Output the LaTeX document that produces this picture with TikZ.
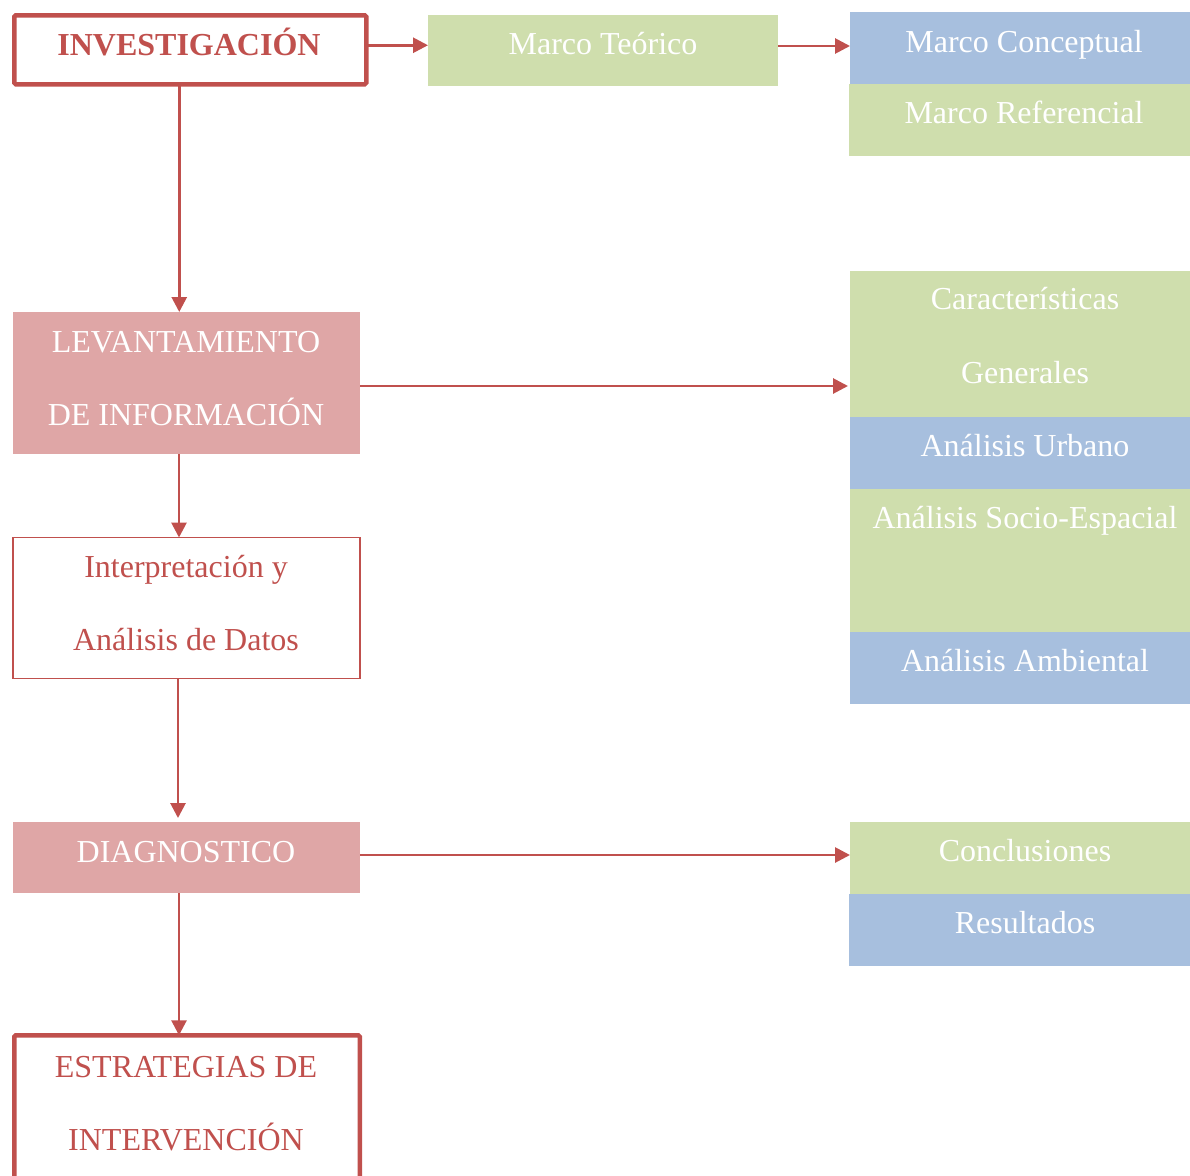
\documentclass[tikz,border=0pt]{standalone}
\usepackage{fontspec}
\setmainfont{Liberation Serif}
\usetikzlibrary{arrows.meta}
\definecolor{dred}{HTML}{C0504D}
\definecolor{pinkf}{HTML}{DFA6A6}
\definecolor{greenf}{HTML}{CFDEAD}
\definecolor{bluef}{HTML}{A7BFDE}
\begin{document}
\begin{tikzpicture}[x=1pt,y=-1pt,
  base/.style={inner sep=0pt, outer sep=0pt, anchor=north west},
  greenbox/.style={base, fill=greenf},
  bluebox/.style={base, fill=bluef},
  pinkbox/.style={base, fill=pinkf},
  thickbox/.style={base, draw=dred, line width=4.5pt, rounded corners=1.5pt, fill=white},
  thinbox/.style={base, draw=dred, line width=1.3pt, fill=white},
  wtxt/.style={anchor=base, inner sep=0pt, text=white, font=\fontsize{32}{32}\selectfont},
  rtxt/.style={anchor=base, inner sep=0pt, text=dred, font=\fontsize{32}{32}\selectfont},
  arr/.style={draw=dred, line width=2.8pt, -{Triangle[length=15pt,width=15pt]}}
]
\useasboundingbox (0,0) rectangle (1190,1175);
\clip (0,0) rectangle (1190,1175);

% boxes
\node[thickbox, minimum width=352pt, minimum height=69pt] (inv) at (14.25,15.25) {};
\node[greenbox, minimum width=350pt, minimum height=71pt] (mt) at (428,15) {};
\node[bluebox, minimum width=340pt, minimum height=72pt] (mc) at (850,12) {};
\node[greenbox, minimum width=341pt, minimum height=72pt] (mr) at (849,84) {};

\node[pinkbox, minimum width=347pt, minimum height=142pt] (lev) at (13,312) {};
\node[greenbox, minimum width=340pt, minimum height=146pt] (cg) at (850,271) {};
\node[bluebox, minimum width=340pt, minimum height=72pt] (au) at (850,417) {};
\node[greenbox, minimum width=340pt, minimum height=143pt] (ase) at (850,489) {};
\node[bluebox, minimum width=340pt, minimum height=72pt] (aa) at (850,632) {};

\node[thinbox, minimum width=347pt, minimum height=141pt] (interp) at (13,537.5) {};

\node[pinkbox, minimum width=347pt, minimum height=71pt] (diag) at (13,822) {};
\node[greenbox, minimum width=340pt, minimum height=72pt] (concl) at (850,822) {};
\node[bluebox, minimum width=341pt, minimum height=72pt] (res) at (849,894) {};

\node[thickbox, minimum width=345.5pt, minimum height=160pt] (estr) at (14.25,1035.25) {};

% texts
\node[rtxt, font=\bfseries\fontsize{32}{32}\selectfont] (tinv) at (189,55) {INVESTIGACIÓN};
\node[wtxt] (tmt) at (603,54) {Marco Teórico};
\node[wtxt] (tmc) at (1024,52) {Marco Conceptual};
\node[wtxt] (tmr) at (1024,123) {Marco Referencial};

\node[wtxt] (tlev1) at (186,352) {LEVANTAMIENTO};
\node[wtxt] (tlev2) at (186,425) {DE INFORMACIÓN};

\node[wtxt] (tcg1) at (1025,309) {Características};
\node[wtxt] (tcg2) at (1025,383) {Generales};
\node[wtxt] (tau) at (1025,456) {Análisis Urbano};
\node[wtxt] (tase) at (1025,528) {Análisis Socio-Espacial};
\node[wtxt] (taa) at (1025,671) {Análisis Ambiental};

\node[rtxt] (tint1) at (186,577) {Interpretación y};
\node[rtxt] (tint2) at (186,650) {Análisis de Datos};

\node[wtxt] (tdiag) at (186,862) {DIAGNOSTICO};
\node[wtxt] (tconcl) at (1025,861) {Conclusiones};
\node[wtxt] (tres) at (1025,933) {Resultados};

\node[rtxt] (test1) at (186,1077) {ESTRATEGIAS DE};
\node[rtxt] (test2) at (186,1150) {INTERVENCIÓN};

% connectors
\draw[arr] ([yshift=4.5pt]inv.east) -- ([yshift=4.5pt]inv.east -| mt.west);
\draw[arr] ([yshift=4.5pt]mt.east) -- ([yshift=4.5pt]mt.east -| mc.west);
\draw[arr] ([xshift=-11pt]inv.south) -- ([xshift=-11pt]inv.south |- lev.north);
\draw[arr] ([yshift=-3pt]lev.east) -- ([yshift=-3pt,xshift=-2pt]lev.east -| cg.west);
\draw[arr] ([xshift=-7.5pt]lev.south) -- ([xshift=-7.5pt]lev.south |- interp.north);
\draw[arr] ([xshift=-8.5pt]interp.south) -- ([xshift=-8.5pt,yshift=4pt]interp.south |- diag.north);
\draw[arr] ([yshift=2.5pt]diag.east) -- ([yshift=2.5pt]diag.east -| concl.west);
\draw[arr] ([xshift=-7.5pt]diag.south) -- ([xshift=-7.5pt]diag.south |- estr.north);
\end{tikzpicture}
\end{document}
